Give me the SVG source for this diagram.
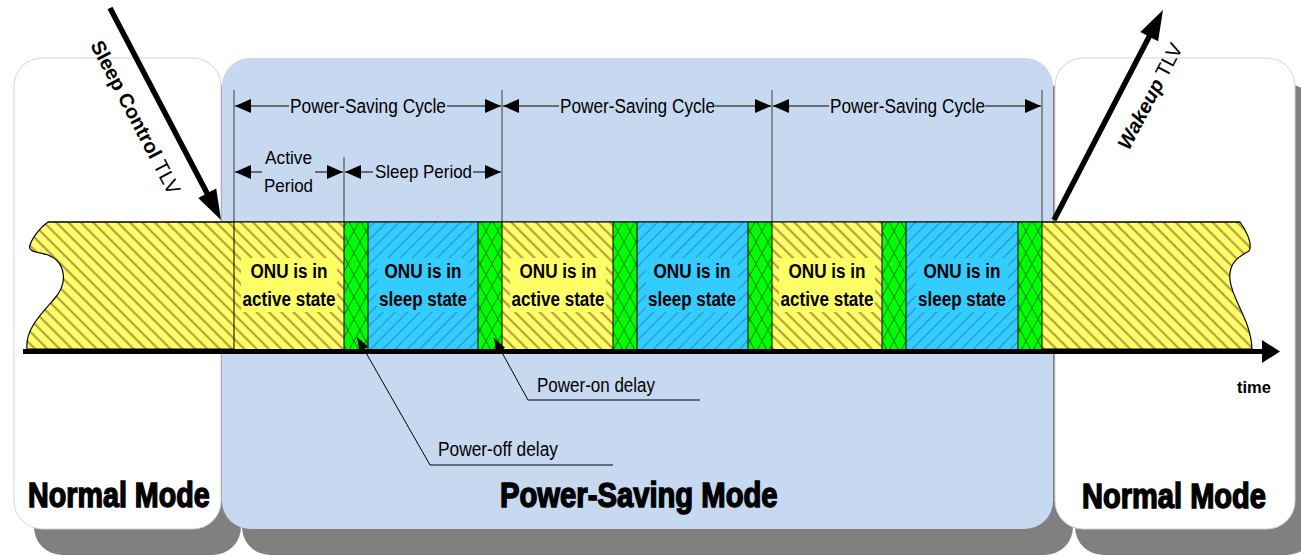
<svg xmlns="http://www.w3.org/2000/svg" width="1301" height="556" viewBox="0 0 1301 556">
<style>
.lbl{font-family:"Liberation Sans",Arial,sans-serif;font-size:20px;fill:#000}
.bold{font-weight:bold}
.mode{font-family:"Liberation Sans",Arial,sans-serif;font-size:35px;font-weight:bold;fill:#000;stroke:#000;stroke-width:1.5}
.sep{stroke:#000;stroke-width:1}
.dimv{stroke:#555;stroke-width:1.2}
.dim{stroke:#000;stroke-width:1;fill:none}
.lead{stroke:#000;stroke-width:1;fill:none}
.panelW{fill:#fff;stroke:#d6d6d6;stroke-width:1}
.shadow{fill:#808080}
</style>
<defs>
<pattern id="hY" patternUnits="userSpaceOnUse" width="8.7" height="8.7" patternTransform="rotate(-45)">
<rect width="8.7" height="8.7" fill="#FFFF66"/>
<line x1="4.3" y1="0" x2="4.3" y2="8.7" stroke="#A8893E" stroke-width="1.8"/>
</pattern>
<pattern id="hB" patternUnits="userSpaceOnUse" width="8.7" height="8.7" patternTransform="rotate(45)">
<rect width="8.7" height="8.7" fill="#33CCFF"/>
<line x1="4.3" y1="0" x2="4.3" y2="8.7" stroke="#2B8FC4" stroke-width="1.1"/>
</pattern>
<pattern id="hG" patternUnits="userSpaceOnUse" width="12" height="22">
<rect width="12" height="22" fill="#00FF00"/>
<path d="M0,0 L12,22 M12,0 L0,22" stroke="#009A00" stroke-width="1.2" fill="none"/>
</pattern>
<marker id="dimA" markerUnits="userSpaceOnUse" markerWidth="17" markerHeight="15" refX="16" refY="7" orient="auto">
<path d="M0,0 L16,7 L0,14 z" fill="#000"/>
</marker>
<marker id="leadA" markerUnits="userSpaceOnUse" markerWidth="15" markerHeight="11" refX="14" refY="5" orient="auto">
<path d="M0,0 L14,5 L0,10 z" fill="#000"/>
</marker>
</defs>

<g id="shadows">
<rect class="shadow" x="34" y="84" width="207" height="471" rx="28"/>
<rect class="shadow" x="242" y="84" width="831" height="471" rx="28"/>
<rect class="shadow" x="1075" y="84" width="240" height="471" rx="28"/>
</g>

<g id="normal-mode-left">
<rect class="panelW" x="14" y="58" width="207" height="471" rx="28"/>
<text class="mode" transform="translate(28,507) scale(0.82,1)">Normal Mode</text>
</g>
<g id="power-saving-mode">
<rect x="222" y="58" width="831" height="471" rx="28" fill="#C6D9F0"/>
<text class="mode" transform="translate(500,507) scale(0.835,1)">Power-Saving Mode</text>
</g>
<g id="normal-mode-right">
<rect class="panelW" x="1055" y="58" width="240" height="471" rx="28"/>
<text class="mode" transform="translate(1082,508) scale(0.83,1)">Normal Mode</text>
</g>

<g id="dimension-lines">
<line class="dimv" x1="234" y1="90" x2="234" y2="222"/>
<line class="dimv" x1="502" y1="90" x2="502" y2="222"/>
<line class="dimv" x1="772" y1="90" x2="772" y2="222"/>
<line class="dimv" x1="1042" y1="90" x2="1042" y2="222"/>
<line class="dimv" x1="344" y1="157" x2="344" y2="222"/>
</g>

<g id="cycle-1">
<line class="dim" x1="289" y1="106" x2="235" y2="106" marker-end="url(#dimA)"/>
<line class="dim" x1="447" y1="106" x2="501" y2="106" marker-end="url(#dimA)"/>
<text class="lbl" x="290" y="113" textLength="156" lengthAdjust="spacingAndGlyphs">Power-Saving Cycle</text>
</g>
<g id="cycle-2">
<line class="dim" x1="559" y1="106" x2="503" y2="106" marker-end="url(#dimA)"/>
<line class="dim" x1="715" y1="106" x2="771" y2="106" marker-end="url(#dimA)"/>
<text class="lbl" x="560" y="113" textLength="155" lengthAdjust="spacingAndGlyphs">Power-Saving Cycle</text>
</g>
<g id="cycle-3">
<line class="dim" x1="829" y1="106" x2="773" y2="106" marker-end="url(#dimA)"/>
<line class="dim" x1="985" y1="106" x2="1041" y2="106" marker-end="url(#dimA)"/>
<text class="lbl" x="830" y="113" textLength="155" lengthAdjust="spacingAndGlyphs">Power-Saving Cycle</text>
</g>
<g id="active-period">
<line class="dim" x1="262" y1="172" x2="235" y2="172" marker-end="url(#dimA)"/>
<line class="dim" x1="315" y1="172" x2="343" y2="172" marker-end="url(#dimA)"/>
<text class="lbl" x="265" y="164" textLength="47" lengthAdjust="spacingAndGlyphs" style="font-size:19px">Active</text>
<text class="lbl" x="264" y="192" textLength="49" lengthAdjust="spacingAndGlyphs" style="font-size:19px">Period</text>
</g>
<g id="sleep-period">
<line class="dim" x1="373" y1="172" x2="345" y2="172" marker-end="url(#dimA)"/>
<line class="dim" x1="473" y1="172" x2="501" y2="172" marker-end="url(#dimA)"/>
<text class="lbl" x="375" y="178" textLength="97" lengthAdjust="spacingAndGlyphs" style="font-size:19px">Sleep Period</text>
</g>

<g id="timeline">
<path d="M48,222 L1240,222 C1246,230 1253,244 1249,251 C1240,256 1228,262 1230,280 C1232,300 1251,320 1252,349 L27,349 C25,330 40,315 55,298 C68,283 66,262 48,255 C38,252 27,252 30,245 C33,236 42,226 48,222 Z" fill="url(#hY)" stroke="#000" stroke-width="1.2"/>
<rect x="234" y="222" width="110" height="127" fill="url(#hY)"/>
<rect x="344" y="222" width="24" height="127" fill="url(#hG)"/>
<rect x="368" y="222" width="110" height="127" fill="url(#hB)"/>
<rect x="478" y="222" width="24" height="127" fill="url(#hG)"/>
<rect x="502" y="222" width="111" height="127" fill="url(#hY)"/>
<rect x="613" y="222" width="24" height="127" fill="url(#hG)"/>
<rect x="637" y="222" width="111" height="127" fill="url(#hB)"/>
<rect x="748" y="222" width="24" height="127" fill="url(#hG)"/>
<rect x="772" y="222" width="110" height="127" fill="url(#hY)"/>
<rect x="882" y="222" width="24" height="127" fill="url(#hG)"/>
<rect x="906" y="222" width="112" height="127" fill="url(#hB)"/>
<rect x="1018" y="222" width="24" height="127" fill="url(#hG)"/>
<line x1="48" y1="222" x2="1240" y2="222" stroke="#000" stroke-width="1.2"/>
<g class="sep">
<line x1="234" y1="222" x2="234" y2="349"/>
<line x1="344" y1="222" x2="344" y2="349"/>
<line x1="368" y1="222" x2="368" y2="349"/>
<line x1="478" y1="222" x2="478" y2="349"/>
<line x1="502" y1="222" x2="502" y2="349"/>
<line x1="613" y1="222" x2="613" y2="349"/>
<line x1="637" y1="222" x2="637" y2="349"/>
<line x1="748" y1="222" x2="748" y2="349"/>
<line x1="772" y1="222" x2="772" y2="349"/>
<line x1="882" y1="222" x2="882" y2="349"/>
<line x1="906" y1="222" x2="906" y2="349"/>
<line x1="1018" y1="222" x2="1018" y2="349"/>
<line x1="1042" y1="222" x2="1042" y2="349"/>
</g>
</g>

<g id="state-active-1">
<rect x="241" y="258" width="96" height="54" fill="#FFFF66"/>
<text class="lbl bold" x="289" y="278" text-anchor="middle" textLength="77" lengthAdjust="spacingAndGlyphs">ONU is in</text>
<text class="lbl bold" x="289" y="306" text-anchor="middle" textLength="93" lengthAdjust="spacingAndGlyphs">active state</text>
</g>
<g id="state-sleep-1">
<rect x="377" y="258" width="92" height="54" fill="#33CCFF"/>
<text class="lbl bold" x="423" y="278" text-anchor="middle" textLength="77" lengthAdjust="spacingAndGlyphs">ONU is in</text>
<text class="lbl bold" x="423" y="306" text-anchor="middle" textLength="88" lengthAdjust="spacingAndGlyphs">sleep state</text>
</g>
<g id="state-active-2">
<rect x="510" y="258" width="96" height="54" fill="#FFFF66"/>
<text class="lbl bold" x="558" y="278" text-anchor="middle" textLength="77" lengthAdjust="spacingAndGlyphs">ONU is in</text>
<text class="lbl bold" x="558" y="306" text-anchor="middle" textLength="93" lengthAdjust="spacingAndGlyphs">active state</text>
</g>
<g id="state-sleep-2">
<rect x="646" y="258" width="92" height="54" fill="#33CCFF"/>
<text class="lbl bold" x="692" y="278" text-anchor="middle" textLength="77" lengthAdjust="spacingAndGlyphs">ONU is in</text>
<text class="lbl bold" x="692" y="306" text-anchor="middle" textLength="88" lengthAdjust="spacingAndGlyphs">sleep state</text>
</g>
<g id="state-active-3">
<rect x="779" y="258" width="96" height="54" fill="#FFFF66"/>
<text class="lbl bold" x="827" y="278" text-anchor="middle" textLength="77" lengthAdjust="spacingAndGlyphs">ONU is in</text>
<text class="lbl bold" x="827" y="306" text-anchor="middle" textLength="93" lengthAdjust="spacingAndGlyphs">active state</text>
</g>
<g id="state-sleep-3">
<rect x="916" y="258" width="92" height="54" fill="#33CCFF"/>
<text class="lbl bold" x="962" y="278" text-anchor="middle" textLength="77" lengthAdjust="spacingAndGlyphs">ONU is in</text>
<text class="lbl bold" x="962" y="306" text-anchor="middle" textLength="88" lengthAdjust="spacingAndGlyphs">sleep state</text>
</g>

<g id="time-axis">
<line x1="23" y1="351.5" x2="1264" y2="351.5" stroke="#000" stroke-width="5"/>
<path d="M1262,340 L1280,351.5 L1262,363 z" fill="#000"/>
<text class="lbl bold" x="1237" y="393" style="font-size:17px" textLength="34" lengthAdjust="spacingAndGlyphs">time</text>
</g>

<g id="connectors">
<line x1="110" y1="8" x2="208" y2="195" stroke="#000" stroke-width="5.5"/>
<path d="M221,220 L216.2,188.6 L198.2,198 z" fill="#000"/>
<line x1="1054" y1="220" x2="1150" y2="35" stroke="#000" stroke-width="5.5"/>
<path d="M1163,10 L1158.1,41.2 L1140.3,32 z" fill="#000"/>
<path class="lead" d="M700,400 L528,400 L494,338" marker-end="url(#leadA)"/>
<path class="lead" d="M613,465 L430,465 L357,337" marker-end="url(#leadA)"/>
</g>

<g id="labels">
<text class="lbl" transform="translate(90,45) rotate(62.4)"><tspan class="bold">Sleep Control</tspan> TLV</text>
<text class="lbl" transform="translate(1129,151) rotate(-62.4)"><tspan class="bold" font-style="italic">Wakeup</tspan> TLV</text>
<text class="lbl" x="537" y="392" textLength="118" lengthAdjust="spacingAndGlyphs">Power-on delay</text>
<text class="lbl" x="438" y="456" textLength="120" lengthAdjust="spacingAndGlyphs">Power-off delay</text>
</g>
</svg>
